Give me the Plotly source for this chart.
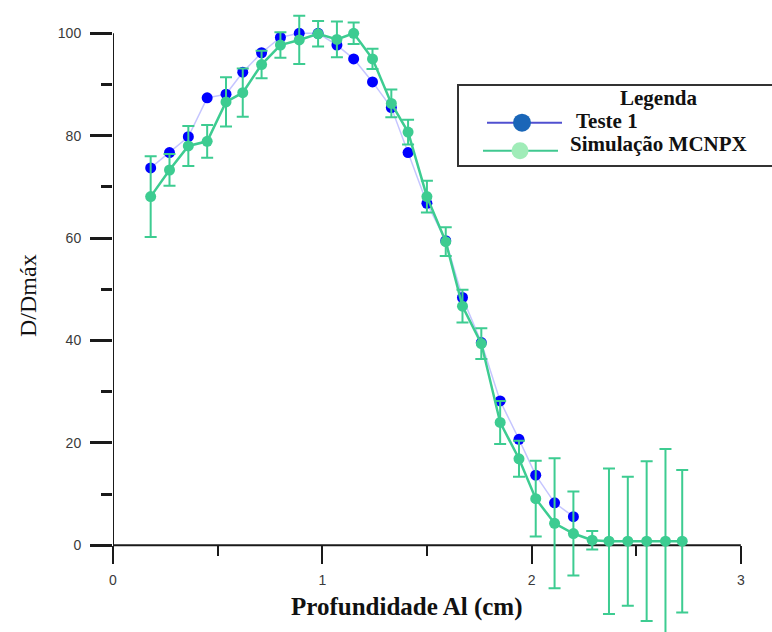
import plotly.graph_objects as go

# ---------------- data ----------------
depth_cm = [0.18, 0.27, 0.36, 0.45, 0.54, 0.62, 0.71, 0.80, 0.89, 0.98,
            1.07, 1.15, 1.24, 1.33, 1.41, 1.50, 1.59, 1.67, 1.76, 1.85,
            1.94, 2.02, 2.11, 2.20, 2.29, 2.37, 2.46, 2.55, 2.64, 2.72]

teste1 = [73.7, 76.7, 79.8, 87.4, 88.1, 92.4, 96.2, 99.2, 100.0, 100.0,
          97.7, 95.0, 90.5, 85.5, 76.7, 66.8, 59.5, 48.4, 39.6, 28.2,
          20.7, 13.7, 8.3, 5.6]

mcnpx = [68.1, 73.3, 78.0, 78.9, 86.6, 88.4, 93.9, 97.7, 98.7, 99.9,
         98.8, 100.0, 95.0, 86.3, 80.7, 68.1, 59.3, 46.7, 39.4, 24.0,
         16.9, 9.1, 4.3, 2.3, 1.0, 0.8, 0.8, 0.8, 0.8, 0.8]

mcnpx_err = [7.9, 3.1, 3.9, 3.2, 4.8, 4.7, 2.7, 2.5, 4.7, 2.5,
             3.5, 2.1, 2.0, 2.7, 2.4, 3.1, 2.8, 3.2, 3.0, 4.2,
             3.5, 7.4, 12.7, 8.2, 1.8, 14.2, 12.6, 15.6, 18.0, 13.9]

x_ticks = [0, 1, 2, 3]
x_minor = [0.5, 1.5, 2.5]
y_ticks = [0, 20, 40, 60, 80, 100]
y_minor = [10, 30, 50, 70, 90]

series_names = ["Teste 1", "Simulação MCNPX"]
legend_title = "Legenda"
x_title = "Profundidade Al (cm)"
y_title = "D/Dmáx"

# ---------------- styling ----------------
BLUE = "#0000ff"
BLUE_LINE = "rgba(90,90,255,0.35)"
GREEN = "#3dcc91"
AXIS = "#1a1a1a"
W, H = 772, 632
ML = 113
X_RANGE = [0, 3.149]
Y_RANGE = [-16.93, 106.5]

fig = go.Figure()

fig.add_trace(go.Scatter(
    x=depth_cm[:len(teste1)], y=teste1, mode="lines+markers",
    name=series_names[0], showlegend=False,
    line=dict(color=BLUE_LINE, width=1.5),
    marker=dict(color=BLUE, size=11),
))

fig.add_trace(go.Scatter(
    x=depth_cm, y=mcnpx, mode="lines+markers",
    name=series_names[1], showlegend=False,
    line=dict(color=GREEN, width=2.5),
    marker=dict(color=GREEN, size=11),
    error_y=dict(type="data", array=mcnpx_err, visible=True,
                 color=GREEN, thickness=2, width=6),
))

tick_font = dict(family="Liberation Sans", size=14, color="#3a3a3a")

fig.update_xaxes(
    range=X_RANGE, anchor="free",
    position=(0 - Y_RANGE[0]) / (Y_RANGE[1] - Y_RANGE[0]),
    tickmode="array", tickvals=x_ticks, ticktext=[str(v) for v in x_ticks],
    ticks="outside", ticklen=18, tickwidth=2, tickcolor=AXIS,
    minor=dict(tickmode="array", tickvals=x_minor, ticks="outside",
               ticklen=10, tickwidth=2, tickcolor=AXIS, showgrid=False),
    ticklabelstandoff=4,
    tickfont=tick_font, showgrid=False, zeroline=False, showline=False,
    automargin=False,
)
fig.update_yaxes(
    range=Y_RANGE,
    tickmode="array", tickvals=y_ticks, ticktext=[str(v) for v in y_ticks],
    ticks="outside", ticklen=22, tickwidth=2.5, tickcolor=AXIS,
    minor=dict(tickmode="array", tickvals=y_minor, ticks="outside",
               ticklen=11, tickwidth=2.5, tickcolor=AXIS, showgrid=False),
    ticklabelstandoff=6,
    tickfont=tick_font, showgrid=False, zeroline=False, showline=False,
    automargin=False,
)

shapes = [
    # axis lines
    dict(type="line", xref="x", yref="y", x0=0, x1=0, y0=0, y1=100,
         line=dict(color=AXIS, width=2), layer="below"),
    dict(type="line", xref="x", yref="y", x0=0, x1=3, y0=0, y1=0,
         line=dict(color=AXIS, width=2), layer="below"),
]

def px(xp):
    return (xp - ML) / (W - ML)

def py(yp):
    return 1 - yp / H

# legend box
shapes.append(dict(type="rect", xref="paper", yref="paper",
                   x0=px(458), x1=px(776), y0=py(166), y1=py(85),
                   line=dict(color="#333333", width=2), fillcolor="white",
                   layer="above"))
leg_rows = [
    (122.7, 487, 562, 522, "#5050d0", "#1a66b8", 9, 575),
    (150.7, 483, 558, 520, "#40c890", "#a0ecb8", 8.5, 570),
]
annotations = []
for (yc, lx0, lx1, mx, lc, mc, r, tx), name in zip(leg_rows, series_names):
    shapes.append(dict(type="line", xref="paper", yref="paper",
                       x0=px(lx0), x1=px(lx1), y0=py(yc), y1=py(yc),
                       line=dict(color=lc, width=2), layer="above"))
    shapes.append(dict(type="circle", xref="paper", yref="paper",
                       xsizemode="pixel", ysizemode="pixel",
                       xanchor=px(mx), yanchor=py(yc),
                       x0=-r, x1=r, y0=-r, y1=r,
                       fillcolor=mc, line=dict(color=mc, width=0),
                       layer="above"))
leg_font = dict(family="Liberation Serif", size=21, color="#111111")
annotations.append(dict(text="<b>" + legend_title + "</b>", xref="paper", yref="paper",
                        x=px(659), y=py(97.5), xanchor="center", yanchor="middle",
                        showarrow=False, font=leg_font))
annotations.append(dict(text="<b>" + series_names[0] + "</b>", xref="paper", yref="paper",
                        x=px(574), y=py(121), xanchor="left", yanchor="middle",
                        showarrow=False, font=leg_font))
annotations.append(dict(text="<b>" + series_names[1] + "</b>", xref="paper", yref="paper",
                        x=px(568), y=py(143.5), xanchor="left", yanchor="middle",
                        showarrow=False, font=leg_font))

# axis titles
annotations.append(dict(text="<b>" + x_title + "</b>", xref="paper", yref="paper",
                        x=px(407), y=py(607), xanchor="center", yanchor="middle",
                        showarrow=False,
                        font=dict(family="Liberation Serif", size=25, color="#111111")))
annotations.append(dict(text=y_title, xref="paper", yref="paper",
                        x=px(28), y=py(296), xanchor="center", yanchor="middle",
                        textangle=-90, showarrow=False,
                        font=dict(family="Liberation Serif", size=24, color="#111111")))

fig.update_layout(
    width=W, height=H, autosize=False,
    margin=dict(l=ML, r=0, t=0, b=0, pad=0),
    paper_bgcolor="white", plot_bgcolor="white",
    showlegend=False,
    shapes=shapes, annotations=annotations,
)

fig.write_html("out.html")
